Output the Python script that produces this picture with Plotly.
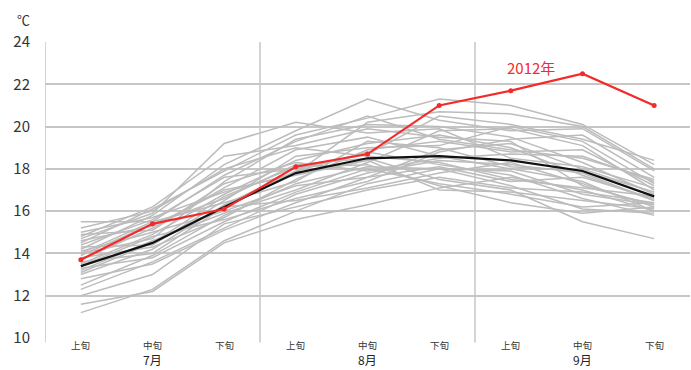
import plotly.graph_objects as go

# Ten-day periods (上旬/中旬/下旬) for July–September
periods = ["上旬", "中旬", "下旬", "上旬", "中旬", "下旬", "上旬", "中旬", "下旬"]
months = ["7月", "8月", "9月"]
y_ticks = [10, 12, 14, 16, 18, 20, 22, 24]

# Individual past years (gray)
past_years = [
    [11.2, 12.3, 14.6, 16.0, 17.3, 18.0, 17.9, 16.8, 16.3],
    [11.6, 12.2, 14.5, 15.6, 16.3, 17.1, 17.6, 17.0, 16.0],
    [12.3, 13.6, 15.2, 16.8, 17.8, 18.4, 18.2, 17.8, 16.5],
    [12.5, 13.9, 15.8, 17.3, 18.1, 18.0, 17.2, 16.1, 15.9],
    [12.8, 13.5, 15.1, 16.4, 17.6, 18.9, 19.2, 18.0, 16.9],
    [13.0, 14.2, 16.3, 17.9, 18.8, 18.2, 17.7, 16.6, 15.8],
    [13.2, 14.6, 15.9, 17.0, 18.3, 19.8, 19.9, 19.1, 17.0],
    [13.3, 13.8, 15.5, 16.9, 18.0, 17.3, 16.8, 16.2, 16.4],
    [13.5, 14.9, 16.8, 18.4, 19.2, 19.6, 19.0, 17.7, 16.5],
    [13.6, 14.0, 16.2, 16.5, 17.1, 17.8, 18.3, 17.3, 16.2],
    [13.7, 15.2, 17.1, 18.9, 19.5, 18.6, 18.0, 17.4, 16.0],
    [13.8, 14.3, 15.7, 17.5, 18.9, 19.3, 18.8, 18.9, 17.2],
    [13.9, 15.4, 16.6, 18.2, 18.5, 17.5, 17.0, 15.5, 14.7],
    [14.0, 14.7, 17.4, 19.4, 20.1, 20.0, 19.5, 18.3, 16.8],
    [14.1, 15.0, 16.0, 17.2, 17.6, 18.1, 17.4, 17.6, 16.6],
    [14.2, 15.8, 18.2, 19.8, 21.3, 20.3, 19.8, 19.9, 17.9],
    [14.3, 14.4, 16.5, 18.6, 19.0, 19.1, 20.0, 19.3, 17.3],
    [14.4, 15.6, 17.6, 18.0, 18.7, 20.5, 20.1, 19.4, 18.4],
    [14.5, 16.1, 17.9, 19.6, 20.4, 21.3, 21.0, 20.1, 18.2],
    [14.6, 15.3, 17.0, 17.7, 18.4, 17.0, 16.9, 16.5, 16.1],
    [14.7, 15.9, 19.2, 20.2, 19.7, 19.9, 18.5, 18.1, 17.1],
    [14.8, 16.2, 18.6, 19.1, 19.9, 19.5, 19.3, 17.2, 16.3],
    [14.9, 15.1, 17.3, 18.3, 17.9, 18.5, 18.7, 18.6, 17.4],
    [15.0, 15.7, 16.9, 17.8, 20.2, 20.7, 20.6, 20.0, 18.0],
    [15.2, 16.0, 18.0, 19.0, 18.6, 18.3, 17.5, 17.1, 16.7],
    [15.5, 15.5, 16.4, 17.4, 19.3, 19.0, 18.1, 17.9, 16.9],
    [12.0, 13.0, 15.4, 16.2, 17.0, 17.6, 17.1, 16.9, 16.4],
    [13.1, 14.5, 16.7, 18.1, 18.2, 17.2, 16.4, 15.9, 16.2],
    [13.4, 14.8, 15.6, 16.6, 17.4, 18.8, 19.4, 19.6, 17.6],
    [14.0, 15.5, 17.7, 19.3, 20.5, 19.4, 18.9, 18.5, 17.5],
]

# Average of past years (black) and 2012 (red)
average = [13.4, 14.5, 16.2, 17.8, 18.5, 18.6, 18.4, 17.9, 16.7]
year_2012 = [13.7, 15.4, 16.1, 18.1, 18.7, 21.0, 21.7, 22.5, 21.0]

FONT = "Noto Sans CJK JP"
GRID = "#c9c5c5"
x = list(range(len(periods)))

fig = go.Figure()
for row in past_years:
    fig.add_trace(go.Scatter(x=x, y=row, mode="lines",
                             line=dict(color="#bcbcbc", width=1.5),
                             hoverinfo="skip", showlegend=False))
fig.add_trace(go.Scatter(x=x, y=average, mode="lines",
                         line=dict(color="#111111", width=2.2), showlegend=False))
fig.add_trace(go.Scatter(x=x, y=year_2012, mode="lines+markers",
                         line=dict(color="#f32a2a", width=2.2),
                         marker=dict(color="#f32a2a", size=5), showlegend=False))

# Month separators and left axis
for xv in [-0.5, 2.5, 5.5]:
    fig.add_shape(type="line", xref="x", yref="paper", x0=xv, x1=xv, y0=-0.015, y1=1,
                  line=dict(color=GRID, width=1.5), layer="below")

# Period labels and month labels
for i, p in enumerate(periods):
    fig.add_annotation(x=i, y=-0.024, xref="x", yref="paper", text=p, showarrow=False,
                       yanchor="middle", font=dict(family=FONT, size=9.5, color="#333333"))
for j, m in enumerate(months):
    fig.add_annotation(x=1 + 3 * j, y=-0.074, xref="x", yref="paper", text=m, showarrow=False,
                       yanchor="middle", font=dict(family=FONT, size=12, color="#222222"))

fig.add_annotation(x=7, y=year_2012[7], xref="x", yref="y", text="2012年", showarrow=False,
                   xshift=-52, yshift=6, font=dict(family=FONT, size=15, color="#f32a2a"))
fig.add_annotation(x=0, y=1, xref="paper", yref="paper", text="℃", showarrow=False,
                   xshift=-30, yshift=34, font=dict(family=FONT, size=13, color="#333333"))

fig.update_xaxes(range=[-0.5, 8.5], showgrid=False, showticklabels=False, zeroline=False,
                 showline=False, ticks="")
fig.update_yaxes(range=[10, 24], tickvals=y_ticks, showgrid=True, gridcolor=GRID, gridwidth=1.5,
                 zeroline=False, showline=False, ticks="", ticklabelstandoff=14,
                 tickfont=dict(family=FONT, size=15, color="#333333"))

fig.update_layout(width=691, height=370, margin=dict(l=45, r=1, t=42, b=32),
                  plot_bgcolor="white", paper_bgcolor="white", showlegend=False)

fig.write_html("out.html")
